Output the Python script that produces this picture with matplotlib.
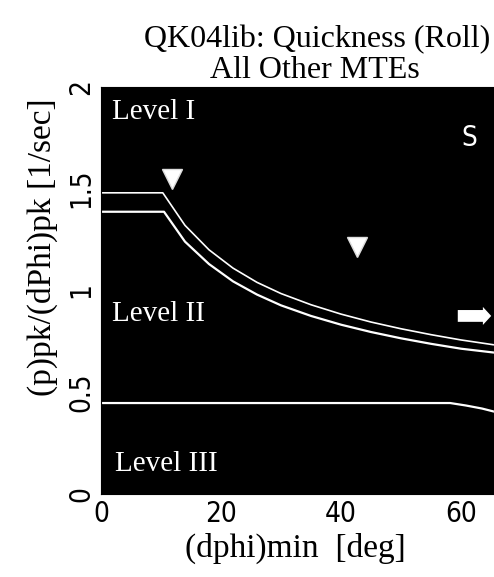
import matplotlib
matplotlib.use('Agg')
import matplotlib.pyplot as plt

# Level 1 boundary (upper line)
dphi_upper = [0, 10.3, 14, 18, 22, 26, 30, 35, 40, 45, 50, 55, 60, 65.5]
q_upper = [1.48, 1.48, 1.32, 1.20, 1.11, 1.04, 0.985, 0.93, 0.884, 0.845, 0.812, 0.783, 0.757, 0.733]

# second boundary just below it
dphi_lower = [0, 10.5, 14, 18, 22, 26, 30, 35, 40, 45, 50, 55, 60, 65.5]
q_lower = [1.387, 1.387, 1.24, 1.13, 1.045, 0.98, 0.927, 0.875, 0.832, 0.796, 0.765, 0.738, 0.714, 0.695]

# Level 2/3 boundary
dphi_l3 = [0, 58.2, 60.8, 63.5, 65.5]
q_l3 = [0.447, 0.447, 0.435, 0.42, 0.405]

# test points (triangles)
pts_dphi = [11.8, 42.6]
pts_q = [1.55, 1.215]

# off-scale arrow
arrow_from = (59.0, 0.875)
arrow_to = (65.5, 0.875)

level_names = ['Level I', 'Level II', 'Level III']
level_pos = [(1.8, 1.94), (1.8, 0.95), (2.3, 0.21)]

serif = ['Liberation Serif', 'DejaVu Serif']

fig = plt.figure(figsize=(4.94, 5.77), dpi=100)
ax = fig.add_axes([101/494, 83/577, 393/494, 407/577])
ax.set_facecolor('black')

ax.plot(dphi_upper, q_upper, color='white', lw=1.2)
ax.plot(dphi_lower, q_lower, color='white', lw=1.6)
ax.plot(dphi_l3, q_l3, color='white', lw=1.6)
ax.plot(pts_dphi, pts_q, 'v', color='white', ms=14, mec='#dddddd')

ax.annotate('', xy=arrow_to, xytext=arrow_from,
            arrowprops=dict(arrowstyle='simple,head_length=0.6,head_width=1.3,tail_width=0.85',
                            color='white', lw=0))

for name, (x, y) in zip(level_names, level_pos):
    ax.text(x, y, name, color='white', fontsize=21, family=serif, va='top')
ax.text(60.0, 1.75, 'S', color='white', fontsize=20, family='DejaVu Sans',
        stretch='condensed', va='center')

ax.set_xlim(0, 65.5)
ax.set_ylim(0, 2)
ax.set_xticks([0, 20, 40, 60])
ax.set_yticks([0, 0.5, 1, 1.5, 2])
ax.set_yticklabels(['0', '0.5', '1', '1.5', '2'], rotation=90, va='center')
for lab in ax.get_xticklabels() + ax.get_yticklabels():
    lab.set_family('DejaVu Sans')
    lab.set_stretch('condensed')
    lab.set_fontsize(20)
ax.tick_params(length=0, pad=4)

xl = ax.set_xlabel('(dphi)min  [deg]', family=serif, fontsize=24)
xl.set_va('center')
ax.xaxis.set_label_coords((295 - 101) / 393, -(548 - 494) / 407)
yl = ax.set_ylabel('(p)pk/(dPhi)pk [1/sec]', family=serif, fontsize=24)
yl.set_va('center')
ax.yaxis.set_label_coords(-(101 - 42) / 393, (494 - 247) / 407)
for s in ax.spines.values():
    s.set_color('black')

fig.text(317/494, 1 - 40/577, 'QK04lib: Quickness (Roll)', family=serif, fontsize=23,
         ha='center', va='center')
fig.text(315/494, 1 - 70/577, 'All Other MTEs', family=serif, fontsize=23,
         ha='center', va='center')

fig.savefig('out.png', dpi=100)
